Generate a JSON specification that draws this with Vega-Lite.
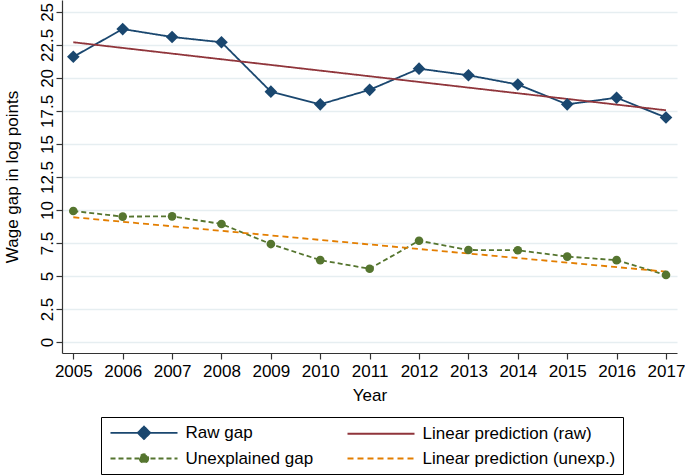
{
  "$schema": "https://vega.github.io/schema/vega-lite/v6.json",
  "width": 615,
  "height": 353,
  "autosize": {"type": "none"},
  "padding": {"left": 62, "top": 0, "right": 8, "bottom": 122},
  "background": "#ffffff",
  "config": {
    "view": {"stroke": null},
    "font": "Liberation Sans",
    "axis": {"labelFont": "Liberation Sans", "titleFont": "Liberation Sans", "labelFontSize": 17, "titleFontSize": 17, "titleFontWeight": "normal", "labelColor": "#000", "titleColor": "#000", "domainColor": "#333", "tickColor": "#333", "tickSize": 6, "domainWidth": 1.2, "tickWidth": 1.2}
  },
  "data": {
    "values": [
      {"year": 2005, "series": "Raw gap", "value": 21.6},
      {"year": 2006, "series": "Raw gap", "value": 23.7},
      {"year": 2007, "series": "Raw gap", "value": 23.1},
      {"year": 2008, "series": "Raw gap", "value": 22.7},
      {"year": 2009, "series": "Raw gap", "value": 18.96},
      {"year": 2010, "series": "Raw gap", "value": 18.0},
      {"year": 2011, "series": "Raw gap", "value": 19.1},
      {"year": 2012, "series": "Raw gap", "value": 20.7},
      {"year": 2013, "series": "Raw gap", "value": 20.2},
      {"year": 2014, "series": "Raw gap", "value": 19.5},
      {"year": 2015, "series": "Raw gap", "value": 18.0},
      {"year": 2016, "series": "Raw gap", "value": 18.5},
      {"year": 2017, "series": "Raw gap", "value": 17.0},
      {"year": 2005, "series": "Linear prediction (raw)", "value": 22.7},
      {"year": 2017, "series": "Linear prediction (raw)", "value": 17.55},
      {"year": 2005, "series": "Unexplained gap", "value": 9.92},
      {"year": 2006, "series": "Unexplained gap", "value": 9.5},
      {"year": 2007, "series": "Unexplained gap", "value": 9.52},
      {"year": 2008, "series": "Unexplained gap", "value": 8.94},
      {"year": 2009, "series": "Unexplained gap", "value": 7.42},
      {"year": 2010, "series": "Unexplained gap", "value": 6.2},
      {"year": 2011, "series": "Unexplained gap", "value": 5.55},
      {"year": 2012, "series": "Unexplained gap", "value": 7.67},
      {"year": 2013, "series": "Unexplained gap", "value": 6.97},
      {"year": 2014, "series": "Unexplained gap", "value": 6.95},
      {"year": 2015, "series": "Unexplained gap", "value": 6.47},
      {"year": 2016, "series": "Unexplained gap", "value": 6.2},
      {"year": 2017, "series": "Unexplained gap", "value": 5.08},
      {"year": 2005, "series": "Linear prediction (unexp.)", "value": 9.45},
      {"year": 2017, "series": "Linear prediction (unexp.)", "value": 5.33}
    ]
  },
  "encoding": {
    "x": {"field": "year", "type": "quantitative", "title": "Year",
      "scale": {"domain": [2004.771, 2017.223], "nice": false, "zero": false},
      "axis": {"values": [2005,2006,2007,2008,2009,2010,2011,2012,2013,2014,2015,2016,2017], "format": "d", "grid": false, "labelPadding": 4, "titlePadding": 8, "labelFlush": false}},
    "y": {"field": "value", "type": "quantitative", "title": "Wage gap in log points",
      "scale": {"domain": [-0.83, 25.9], "nice": false, "zero": false},
      "axis": {"values": [0,2.5,5,7.5,10,12.5,15,17.5,20,22.5,25], "format": ".1~f", "grid": true, "gridColor": "#e6eef1", "gridWidth": 1.3, "labelAngle": -90, "labelAlign": "center", "labelBaseline": "alphabetic", "labelPadding": 4, "titlePadding": 17, "labelFlush": false}}
  },
  "layer": [
    {
      "mark": {"type": "line", "strokeWidth": 1.8},
      "encoding": {
        "color": {"field": "series", "type": "nominal",
          "scale": {"domain": ["Raw gap", "Unexplained gap", "Linear prediction (raw)", "Linear prediction (unexp.)"], "range": ["#1a476f", "#55752f", "#90353b", "#e37e00"]},
          "legend": {
            "orient": "none", "legendX": 39, "legendY": 417, "columns": 2, "title": null,
            "strokeColor": "#000", "padding": 7,
            "symbolSize": 100, "symbolOffset": 27.5, "labelOffset": 33, "symbolStrokeWidth": 1.8,
            "labelFont": "Liberation Sans", "labelFontSize": 17, "labelColor": "#000", "labelLimit": 400,
            "columnPadding": 29, "rowPadding": 6,
            "encode": {"symbols": {"update": {
              "shape": {"signal": "datum.value === 'Raw gap' ? 'M-6.7,0H6.7M0,-1.25L1.25,0L0,1.25L-1.25,0Z' : datum.value === 'Unexplained gap' ? 'M-6.7,0H6.7M0.85,0C0.85,0.47,0.47,0.85,0,0.85C-0.47,0.85,-0.85,0.47,-0.85,0C-0.85,-0.47,-0.47,-0.85,0,-0.85C0.47,-0.85,0.85,-0.47,0.85,0Z' : 'M-6.7,0H6.7'"},
              "fill": {"signal": "datum.value === 'Raw gap' ? '#1a476f' : datum.value === 'Unexplained gap' ? '#55752f' : 'transparent'"},
              "strokeDash": {"signal": "datum.value === 'Unexplained gap' || datum.value === 'Linear prediction (unexp.)' ? [6,4] : [1,0]"},
              "opacity": {"value": 1}
            }}}
          }},
        "strokeDash": {"field": "series", "type": "nominal", "legend": null,
          "scale": {"domain": ["Raw gap", "Unexplained gap", "Linear prediction (raw)", "Linear prediction (unexp.)"], "range": [[1,0],[5,3],[1,0],[6,4]]}}
      }
    },
    {
      "transform": [{"filter": "datum.series === 'Raw gap'"}],
      "mark": {"type": "point", "shape": "diamond", "size": 160, "filled": true, "color": "#1a476f", "opacity": 1}
    },
    {
      "transform": [{"filter": "datum.series === 'Unexplained gap'"}],
      "mark": {"type": "point", "shape": "circle", "size": 75, "filled": true, "color": "#55752f", "opacity": 1}
    }
  ]
}
